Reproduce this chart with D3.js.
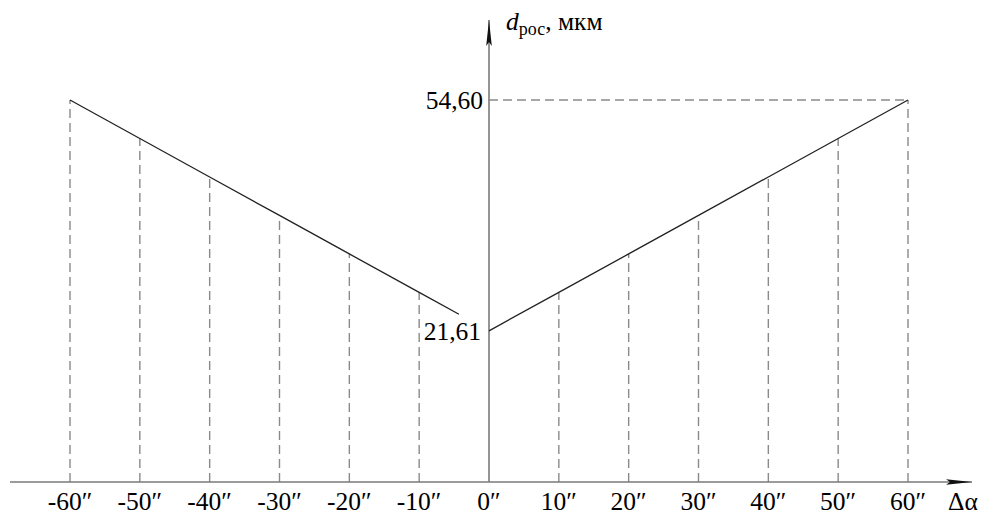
<!DOCTYPE html>
<html>
<head>
<meta charset="utf-8">
<script src="https://cdnjs.cloudflare.com/ajax/libs/d3/7.8.5/d3.min.js"></script>
<style>
  html, body { margin: 0; padding: 0; background: #fff; }
  svg { display: block; }
  text { font-family: "Liberation Serif", "Times New Roman", serif; fill: #000; }
</style>
</head>
<body>
<svg id="chart" width="985" height="519"></svg>
<script>
// Angular deviation, arc seconds
const ticks = [-60, -50, -40, -30, -20, -10, 0, 10, 20, 30, 40, 50, 60];
const tickLabels = ["-60″", "-50″", "-40″", "-30″", "-20″", "-10″", "0″", "10″", "20″", "30″", "40″", "50″", "60″"];

// Left branch: d_рос (µm) versus Δα
const leftX = [-60, -50, -40, -30, -20, -10, -4.3];
const leftY = [54.60, 49.10, 43.60, 38.10, 32.60, 27.11, 23.97];

// Right branch
const rightX = [0, 10, 20, 30, 40, 50, 60];
const rightY = [21.61, 27.11, 32.60, 38.10, 43.60, 49.10, 54.60];

// Values marked on the vertical axis
const yMarks = [54.60, 21.61];
const yMarkLabels = ["54,60", "21,61"];

const svg = d3.select("#chart");

const x = d3.scaleLinear().domain([-60, 60]).range([70, 908]);
const y = d3.scaleLinear().domain([0, 54.60]).range([482, 100]);

const axisColor = "#7a7a7a";
const dashColor = "#8a8a8a";
const fontSize = 25.5;

// Arrow markers
const defs = svg.append("defs");
defs.append("marker")
  .attr("id", "arrow")
  .attr("viewBox", "0 0 26 8")
  .attr("refX", 26).attr("refY", 4)
  .attr("markerWidth", 26).attr("markerHeight", 8)
  .attr("markerUnits", "userSpaceOnUse")
  .attr("orient", "auto")
  .append("path")
  .attr("d", "M0,1.2 L26,4 L0,6.8 L4,4 Z")
  .attr("fill", "#111");

// Data lookup for the dashed drop lines
const valueAt = {};
leftX.forEach((v, i) => valueAt[v] = leftY[i]);
rightX.forEach((v, i) => valueAt[v] = rightY[i]);

// Dashed verticals from the axis up to the curve
svg.append("g").selectAll("line")
  .data(ticks.filter(t => t !== 0))
  .join("line")
  .attr("x1", d => x(d)).attr("x2", d => x(d))
  .attr("y1", y(0)).attr("y2", d => y(valueAt[d]))
  .attr("stroke", dashColor)
  .attr("stroke-width", 1.4)
  .attr("stroke-dasharray", "9,5");

// Dashed horizontal at the maximum value
svg.append("line")
  .attr("x1", x(0)).attr("x2", x(60))
  .attr("y1", y(yMarks[0])).attr("y2", y(yMarks[0]))
  .attr("stroke", dashColor)
  .attr("stroke-width", 1.4)
  .attr("stroke-dasharray", "9,5");

// X axis
svg.append("line")
  .attr("x1", 10).attr("x2", 972)
  .attr("y1", y(0)).attr("y2", y(0))
  .attr("stroke", axisColor).attr("stroke-width", 1.6)
  .attr("marker-end", "url(#arrow)");

// Y axis
svg.append("line")
  .attr("x1", x(0)).attr("x2", x(0))
  .attr("y1", y(0)).attr("y2", 20)
  .attr("stroke", axisColor).attr("stroke-width", 1.6)
  .attr("marker-end", "url(#arrow)");

// Curve branches
const line = d3.line().x(d => x(d[0])).y(d => y(d[1]));
svg.append("path")
  .datum(leftX.map((v, i) => [v, leftY[i]]))
  .attr("d", line)
  .attr("fill", "none").attr("stroke", "#222").attr("stroke-width", 1.3);
svg.append("path")
  .datum(rightX.map((v, i) => [v, rightY[i]]))
  .attr("d", line)
  .attr("fill", "none").attr("stroke", "#222").attr("stroke-width", 1.3);

// Tick labels
svg.append("g").selectAll("text")
  .data(ticks)
  .join("text")
  .attr("x", d => x(d))
  .attr("y", 510)
  .attr("text-anchor", "middle")
  .attr("font-size", fontSize)
  .text((d, i) => tickLabels[i]);

// Axis name Δα
svg.append("text")
  .attr("x", 948).attr("y", 510)
  .attr("font-size", fontSize)
  .text("Δα");

// Labels on the vertical axis
svg.append("g").selectAll("text")
  .data(yMarks)
  .join("text")
  .attr("x", (d, i) => i === 0 ? x(0) - 6 : x(0) - 8)
  .attr("y", d => y(d) + 9)
  .attr("text-anchor", "end")
  .attr("font-size", fontSize)
  .text((d, i) => yMarkLabels[i]);

// Vertical axis title
const title = svg.append("text")
  .attr("x", 506).attr("y", 30)
  .attr("font-size", fontSize);
title.append("tspan").attr("font-style", "italic").text("d");
title.append("tspan").attr("font-size", 18).attr("dy", 5).text("рос");
title.append("tspan").attr("dy", -5).text(", мкм");
</script>
</body>
</html>
